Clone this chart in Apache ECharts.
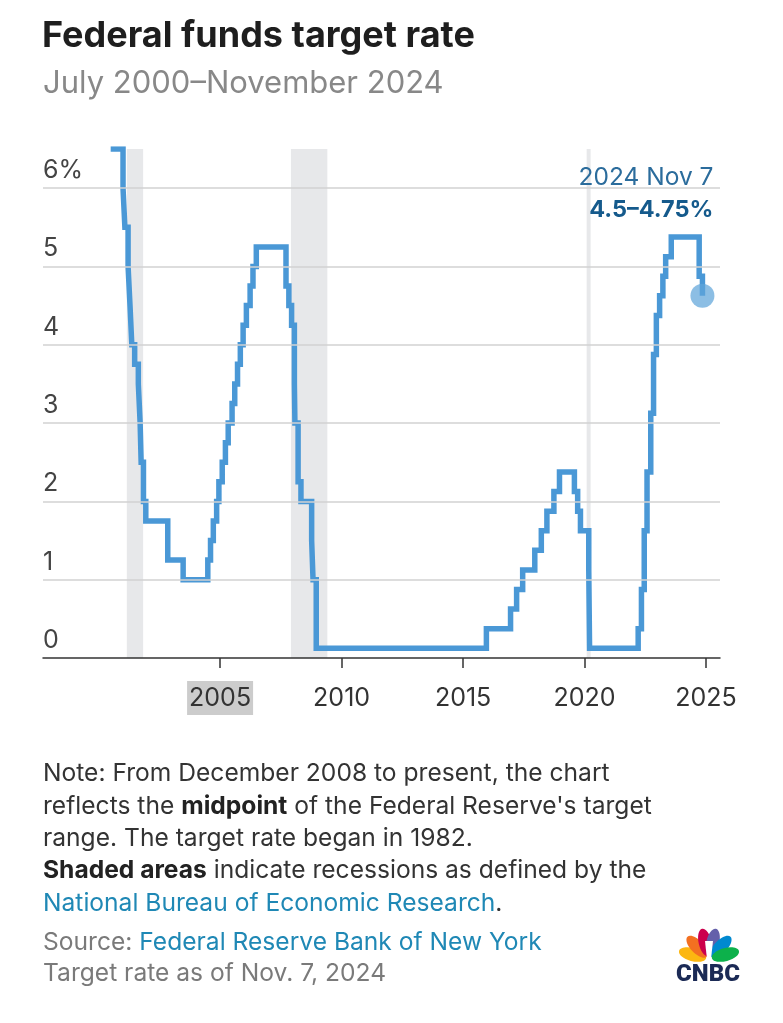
<!DOCTYPE html>
<html>
<head>
<meta charset="utf-8">
<script src="https://cdn.jsdelivr.net/npm/echarts@6/dist/echarts.min.js"></script>
<style>
  html, body { margin: 0; padding: 0; background: #ffffff; }
  #chart { width: 783px; height: 1023px; }
</style>
</head>
<body>
<div id="chart"></div>
<script>
// ---- Data ----
const rateDates = [
  '2000-07-01','2001-01-03','2001-01-31','2001-03-20','2001-04-18','2001-05-15','2001-06-27',
  '2001-08-21','2001-09-17','2001-10-02','2001-11-06','2001-12-11','2002-11-06','2003-06-25',
  '2004-06-30','2004-08-10','2004-09-21','2004-11-10','2004-12-14','2005-02-02','2005-03-22',
  '2005-05-03','2005-06-30','2005-08-09','2005-09-20','2005-11-01','2005-12-13','2006-01-31',
  '2006-03-28','2006-05-10','2006-06-29','2007-09-18','2007-10-31','2007-12-11','2008-01-22',
  '2008-01-30','2008-03-18','2008-04-30','2008-10-08','2008-10-29','2008-12-16','2015-12-17',
  '2016-12-15','2017-03-16','2017-06-15','2017-12-14','2018-03-22','2018-06-14','2018-09-27',
  '2018-12-20','2019-08-01','2019-09-19','2019-10-31','2020-03-04','2020-03-16','2022-03-17',
  '2022-05-05','2022-06-16','2022-07-28','2022-09-22','2022-11-03','2022-12-15','2023-02-02',
  '2023-03-23','2023-05-04','2023-07-27','2024-09-19','2024-11-07'
];
const rateValues = [
  6.5, 6.0, 5.5, 5.0, 4.5, 4.0, 3.75,
  3.5, 3.0, 2.5, 2.0, 1.75, 1.25, 1.0,
  1.25, 1.5, 1.75, 2.0, 2.25, 2.5, 2.75,
  3.0, 3.25, 3.5, 3.75, 4.0, 4.25, 4.5,
  4.75, 5.0, 5.25, 4.75, 4.5, 4.25, 3.5,
  3.0, 2.25, 2.0, 1.5, 1.0, 0.125, 0.375,
  0.625, 0.875, 1.125, 1.375, 1.625, 1.875, 2.125,
  2.375, 2.125, 1.875, 1.625, 1.125, 0.125, 0.375,
  0.875, 1.625, 2.375, 3.125, 3.875, 4.375, 4.625,
  4.875, 5.125, 5.375, 4.875, 4.625
];
const recessions = [
  ['2001-03-01', '2001-11-01'],
  ['2007-12-01', '2009-06-01'],
  ['2020-02-01', '2020-04-01']
];
const xTickYears = [2005, 2010, 2015, 2020, 2025];
const yTicks = [0, 1, 2, 3, 4, 5, 6];
const xRange = ['1997-09-18', '2025-07-29'];
const yRange = [0, 6.5];
const lastLabelDate = '2024 Nov 7';
const lastLabelRange = '4.5–4.75%';

// ---- Helpers ----
function dec(s) {
  const [y, m, d] = s.split('-').map(Number);
  const start = Date.UTC(y, 0, 1), end = Date.UTC(y + 1, 0, 1);
  return y + (Date.UTC(y, m - 1, d) - start) / (end - start);
}

const FONT = 'Inter';
const lineData = rateDates.map((d, i) => [dec(d), rateValues[i]]);
const last = lineData[lineData.length - 1];

const chart = echarts.init(document.getElementById('chart'), null, { renderer: 'canvas' });

// CNBC peacock
const feathers = [];
const featherColors = ['#fcb711', '#f37021', '#cc004c', '#6460aa', '#0089d0', '#0db14b'];
const featherAngles = [165, 134, 103, 77, 46, 15];
const bx = 709, by = 959;
featherColors.forEach((c, i) => {
  const a = featherAngles[i] * Math.PI / 180;
  const r = 17;
  feathers.push({
    type: 'ellipse',
    x: bx + r * Math.cos(a),
    y: by - r * Math.sin(a),
    rotation: a,
    shape: { cx: 0, cy: 0, rx: 14, ry: 6.5 },
    style: { fill: c },
    silent: true
  });
});
feathers.push({
  type: 'polygon',
  shape: { points: [[bx - 4, by - 18], [bx + 4, by - 18], [bx + 2, by], [bx - 2, by]] },
  style: { fill: '#ffffff' }, silent: true
});

const NS = 24.6;
const noteStyle = { fontFamily: FONT, fontSize: NS, fill: '#333333' };
const rich = {
  b: { fontFamily: FONT, fontSize: NS, fontWeight: 'bold', fill: '#222222' },
  l: { fontFamily: FONT, fontSize: NS, fill: '#1f88b5' },
  g: { fontFamily: FONT, fontSize: NS, fill: '#7a7a7a' },
  n: { fontFamily: FONT, fontSize: NS, fill: '#333333' }
};
function noteLine(text, y) {
  return {
    type: 'text', left: 43, top: y - 12,
    style: Object.assign({ text: text, rich: rich }, noteStyle),
    silent: true
  };
}

const option = {
  animation: false,
  backgroundColor: '#ffffff',
  grid: { left: 43, right: 63, top: 149, bottom: 365 },
  xAxis: {
    type: 'value',
    min: dec(xRange[0]),
    max: dec(xRange[1]),
    z: 2,
    splitLine: { show: false },
    axisLine: { show: true, lineStyle: { color: '#333333', width: 1.5 } },
    axisTick: { show: true, customValues: xTickYears, length: 10, lineStyle: { color: '#333333', width: 1.5 } },
    axisLabel: {
      customValues: xTickYears,
      margin: 23,
      fontFamily: FONT, fontSize: 25, color: '#333333',
      formatter: v => (Math.round(v) === 2005 ? '{hl|' + Math.round(v) + '}' : '{n|' + Math.round(v) + '}'),
      rich: {
        hl: { backgroundColor: '#cccccc', padding: [5, 2, 4, 2], fontFamily: FONT, fontSize: 25, color: '#333333' },
        n: { padding: [5, 2, 4, 2], fontFamily: FONT, fontSize: 25, color: '#333333' }
      }
    }
  },
  yAxis: {
    type: 'value',
    min: yRange[0], max: yRange[1],
    z: 2,
    axisLine: { show: false },
    axisTick: { show: false },
    splitLine: { show: false },
    axisLabel: {
      customValues: yTicks,
      inside: true, verticalAlign: 'bottom', margin: 0, padding: [0, 0, 5, 0],
      fontFamily: FONT, fontSize: 25, color: '#444444',
      formatter: v => (v === 6 ? '6%' : String(v))
    }
  },
  series: [
    {
      type: 'line', z: 1, silent: true, symbol: 'none',
      data: [[dec(xRange[0]), 0]],
      lineStyle: { opacity: 0 },
      markArea: {
        silent: true,
        itemStyle: { color: '#e7e8ea' },
        data: recessions.map(r => [{ xAxis: dec(r[0]) }, { xAxis: dec(r[1]) }])
      }
    },
    {
      type: 'line', z: 2, silent: true, symbol: 'none',
      data: [[dec(xRange[0]), 0]],
      lineStyle: { opacity: 0 },
      markLine: {
        silent: true, symbol: 'none', label: { show: false },
        lineStyle: { color: '#d2d2d2', width: 1.5, type: 'solid' },
        data: yTicks.filter(v => v > 0).map(v => ({ yAxis: v }))
      }
    },
    {
      type: 'line', z: 3, step: 'end', symbol: 'none', silent: true,
      data: lineData,
      lineStyle: { color: '#4a98d6', width: 5.5, cap: 'butt', join: 'miter' },
      markPoint: {
        silent: true,
        data: [{
          coord: last,
          symbol: 'circle', symbolSize: 24,
          itemStyle: { color: 'rgba(96,165,218,0.72)' },
          label: {
            show: true, position: 'inside', align: 'right', verticalAlign: 'middle',
            offset: [11, -102],
            formatter: '{a|' + lastLabelDate + '}\n{b|' + lastLabelRange + '}',
            rich: {
              a: { fontFamily: FONT, fontSize: 24.5, color: '#2b6c9c', lineHeight: 32, align: 'right' },
              b: { fontFamily: FONT, fontSize: 23.5, fontWeight: 'bold', color: '#155a8c', lineHeight: 32, align: 'right' }
            }
          }
        }]
      }
    }
  ],
  graphic: [
    { type: 'text', left: 42, top: 18, silent: true,
      style: { text: 'Federal funds target rate', fontFamily: FONT, fontSize: 36, fontWeight: 'bold', fill: '#1e1e1e' } },
    { type: 'text', left: 43, top: 68, silent: true,
      style: { text: 'July 2000–November 2024', fontFamily: FONT, fontSize: 31, fill: '#888888' } },
    noteLine('Note: From December 2008 to present, the chart', 773),
    noteLine("reflects the {b|midpoint} of the Federal Reserve's target", 806),
    noteLine('range. The target rate began in 1982.', 838),
    noteLine('{b|Shaded areas} indicate recessions as defined by the', 870),
    noteLine('{l|National Bureau of Economic Research}.', 903),
    noteLine('{g|Source: }{l|Federal Reserve Bank of New York}', 942),
    noteLine('{g|Target rate as of Nov. 7, 2024}', 973),
    { type: 'group', children: feathers },
    { type: 'text', x: 708, y: 975, silent: true,
      style: { text: 'CNBC', fontFamily: 'Roboto', fontSize: 24, fontWeight: 900, fill: '#1b2a55', align: 'center', verticalAlign: 'middle' } }
  ]
};
chart.setOption(option);
</script>
</body>
</html>
